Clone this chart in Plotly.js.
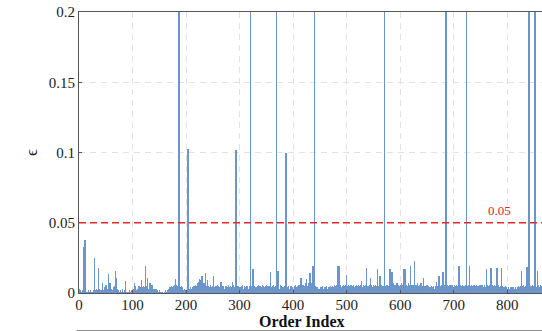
<!DOCTYPE html>
<html><head><meta charset="utf-8">
<script src="https://cdn.plot.ly/plotly-3.0.1.min.js"></script>
<style>html,body{margin:0;padding:0;background:#fff;}#chart{width:542px;height:331px;}</style>
</head><body><div id="chart"></div>
<script>
// baseline noise level per order index (in units of 0.001)
var baseMilli = [
2,3,1,2,1,0,1,2,1,4,2,3,2,1,1,0,1,2,1,0,1,1,2,0,1,1,0,2,1,3,
2,1,3,2,1,2,4,2,1,3,1,2,0,1,3,2,1,4,2,3,1,2,4,3,1,5,2,3,1,4,
2,3,1,2,4,3,2,5,3,2,4,1,3,2,1,0,1,2,1,0,1,1,3,1,0,2,1,4,1,0,
1,0,1,0,2,1,0,1,2,1,0,1,3,4,3,5,4,2,1,3,2,4,5,2,3,4,5,3,2,4,
3,5,4,3,2,4,3,5,4,2,3,5,2,4,3,2,4,3,2,1,3,2,1,2,3,1,2,1,0,1,
1,2,1,0,1,0,1,0,0,1,0,1,2,1,0,1,2,1,3,2,4,3,2,5,3,4,5,3,6,4,
5,4,6,3,5,4,3,5,0,4,3,5,2,4,3,2,1,3,2,1,2,1,3,2,0,2,3,2,4,1,
3,2,4,3,2,5,4,3,6,5,4,3,7,5,8,6,9,7,5,8,6,9,7,6,5,7,4,6,3,5,
4,3,5,4,3,6,5,4,3,5,4,6,5,3,4,2,5,3,4,6,3,5,4,2,3,5,2,4,3,5,
4,3,2,5,4,3,5,2,4,3,6,4,3,5,4,3,5,4,3,6,2,4,5,0,3,4,2,5,3,4,
3,2,4,5,3,6,4,3,2,5,3,4,2,3,5,4,2,3,4,5,0,3,4,5,3,2,4,3,5,4,
2,4,3,5,2,6,4,3,5,4,2,3,4,6,3,5,4,2,3,5,6,4,3,5,4,3,5,2,4,3,
4,3,5,4,6,3,4,5,3,0,4,3,5,4,2,3,6,4,3,5,4,3,2,4,5,3,4,0,3,4,
3,5,4,2,3,4,5,3,2,4,3,2,5,3,4,6,3,4,5,3,4,6,5,4,3,5,4,6,5,4,
6,5,4,7,5,6,4,5,7,6,4,5,6,5,7,6,4,6,5,0,4,5,3,4,2,3,4,2,3,2,
3,4,2,3,4,5,3,2,4,3,2,4,3,5,2,3,4,2,3,4,5,3,4,2,5,3,4,6,3,5,
4,6,5,4,5,4,6,3,5,6,4,3,5,4,6,3,5,4,6,5,3,4,5,6,4,3,5,4,6,3,
4,5,3,6,4,3,5,4,6,3,4,5,6,3,5,4,3,6,5,4,3,6,4,5,3,4,6,5,4,3,
5,4,6,3,5,4,6,5,3,4,6,5,4,3,6,5,4,6,3,5,4,6,5,3,4,6,5,4,3,5,
4,0,5,4,6,3,5,6,4,5,3,6,5,4,6,5,3,7,5,6,4,5,6,4,7,5,6,3,5,4,
6,5,4,7,5,6,4,5,6,3,5,4,6,5,4,7,5,6,4,5,3,6,4,5,6,4,3,5,6,4,
5,6,4,7,5,3,6,4,5,7,6,4,5,3,6,5,4,3,5,4,6,3,4,5,3,4,2,4,3,5,
4,3,5,4,2,3,5,4,3,5,4,6,3,5,4,3,5,4,6,5,4,3,6,5,4,3,0,5,4,6,
3,5,4,6,5,3,4,6,5,4,3,5,6,4,5,3,6,4,5,7,4,5,6,4,3,5,4,6,5,4,
3,5,4,6,0,5,4,3,6,5,4,3,5,6,4,3,5,4,6,3,5,4,3,6,5,4,3,5,4,6,
3,5,4,6,5,3,4,6,5,4,3,5,4,6,5,3,4,5,6,4,3,5,4,6,5,3,4,6,5,4,
3,5,4,6,5,4,3,5,4,6,3,5,4,3,2,4,3,5,2,4,3,2,4,3,2,3,4,2,3,4,
2,3,4,2,3,4,2,3,2,4,3,5,2,4,3,5,4,3,5,4,6,5,4,3,5,4,6,5,4,3,
5,4,6,5,4,3,5,6,4,5,3,4,6,5,4,3,5,4,6,5,3,4,6,5,4,3,5,4,6,5
];
// distinct peaks (tall ones run off the top of the axis)
var peakIdx = [9,10,11,29,36,44,50,55,58,68,70,87,104,117,124,128,133,136,180,187,204,225,230,236,240,251,265,287,293,320,325,358,369,372,387,415,425,432,437,440,484,486,500,528,537,545,558,562,571,581,585,607,610,619,627,644,668,673,680,686,710,724,730,761,770,781,789,827,837,841,852,857];
var peakVal = [0.033,0.036,0.038,0.0247,0.0176,0.007,0.006,0.0135,0.007,0.0159,0.011,0.0085,0.007,0.009,0.019,0.0105,0.007,0.006,0.01,0.5,0.1025,0.01,0.012,0.0145,0.009,0.012,0.008,0.008,0.102,0.5,0.0173,0.015,0.5,0.0157,0.1,0.011,0.01,0.014,0.019,0.5,0.019,0.019,0.0125,0.0085,0.018,0.011,0.017,0.012,0.5,0.017,0.015,0.017,0.017,0.019,0.0226,0.011,0.008,0.012,0.015,0.5,0.019,0.5,0.019,0.017,0.018,0.018,0.018,0.016,0.0185,0.5,0.5,0.016];
var xTicks = [0,100,200,300,400,500,600,700,800];
var yTicks = [0,0.05,0.1,0.15,0.2];
var yTickText = ['0','0.05','0.1','0.15','0.2'];
var threshold = 0.05;
var thresholdLabel = '0.05';

var xs = [], ys = [];
for (var i = 0; i < baseMilli.length; i++) { xs.push(i); ys.push(baseMilli[i] / 1000); }
var px = [], py = [];
for (var k = 0; k < peakIdx.length; k++) { ys[peakIdx[k]] = 0; px.push(peakIdx[k]); py.push(peakVal[k]); }

var serif = 'Liberation Serif, Times New Roman, serif';
var barColor = 'rgb(108,150,203)';
var data = [
  {type: 'bar', x: xs, y: ys, width: 2.2, marker: {color: barColor, line: {width: 0}}},
  {type: 'bar', x: px, y: py, width: 2.8, marker: {color: barColor, line: {width: 0}}}
];
var layout = {
  width: 542, height: 331,
  margin: {l: 79, r: 0, t: 12, b: 38},
  paper_bgcolor: '#fff', plot_bgcolor: '#fff',
  showlegend: false, barmode: 'overlay', bargap: 0,
  font: {family: serif, size: 15, color: '#222'},
  xaxis: {
    range: [0, 865], tickvals: xTicks, ticktext: xTicks.map(String),
    showgrid: true, gridcolor: '#e2e2e2', griddash: '6px,5px', gridwidth: 1,
    zeroline: false, showline: true, linecolor: '#555', linewidth: 1, mirror: true,
    ticks: 'inside', ticklen: 3, tickcolor: '#555', ticklabelstandoff: -2,
    tickfont: {family: serif, size: 15, color: '#222'}
  },
  yaxis: {
    range: [0, 0.2], tickvals: yTicks, ticktext: yTickText,
    showgrid: true, gridcolor: '#e2e2e2', griddash: '6px,5px', gridwidth: 1,
    zeroline: false, showline: true, linecolor: '#555', linewidth: 1,
    ticks: 'inside', ticklen: 3, tickcolor: '#555',
    tickfont: {family: serif, size: 15, color: '#222'},
    title: {text: 'ϵ', font: {family: serif, size: 17, color: '#222'}, standoff: 6}
  },
  shapes: [
    {type: 'line', xref: 'paper', yref: 'y', x0: 0, x1: 1, y0: threshold, y1: threshold,
     line: {color: 'rgb(230,40,40)', width: 1.5, dash: '7px,4px'}},
    {type: 'line', xref: 'paper', yref: 'paper', x0: -0.005, x1: 1, y0: -0.135, y1: -0.135,
     line: {color: '#444', width: 1}}
  ],
  annotations: [
    {x: 0.4795, y: -0.103, xref: 'paper', yref: 'paper', yanchor: 'middle', text: '<b>Order Index</b>', showarrow: false,
     font: {family: serif, size: 16, color: '#111'}},
    {x: 785, y: threshold, xref: 'x', yref: 'y', text: thresholdLabel, showarrow: false,
     yshift: 12, font: {family: serif, size: 13, color: 'rgb(220,30,30)'}}
  ]
};
Plotly.newPlot('chart', data, layout, {displayModeBar: false, staticPlot: true});
</script></body></html>
